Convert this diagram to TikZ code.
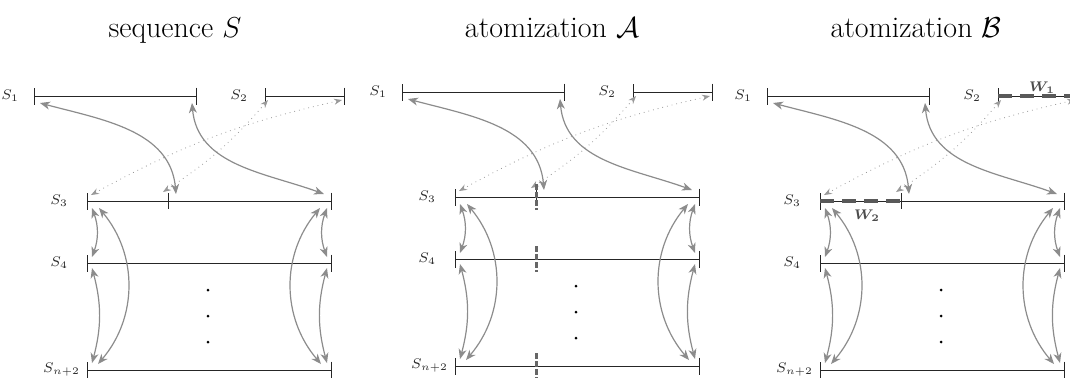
\documentclass[tikz,border=0pt]{standalone}
\usepackage{bm}
\usetikzlibrary{arrows.meta,calc}

\begin{document}
\begin{tikzpicture}[
  x=0.5pt, y=-0.5pt,
  title/.style={font=\fontsize{15}{18}\selectfont, anchor=base, inner sep=0pt},
  lab/.style={font=\scriptsize, text=black!85, left=#1},
  lab/.default=6pt,
  seg/.style={draw=black!85, line width=0.45pt, {Bar[width=8.5pt]}-{Bar[width=8.5pt]}},
  midtick/.style={draw=black!85, line width=0.45pt},
  link/.style={draw=black!45, line width=0.6pt,
    {Stealth[length=5pt,width=4pt,inset=1.5pt]}-{Stealth[length=5pt,width=4pt,inset=1.5pt]}},
  hint/.style={draw=black!40, line width=0.4pt, dotted,
    {Stealth[length=4pt,width=3pt]}-{Stealth[length=4pt,width=3pt]}},
  cut/.style={draw=black!60, line width=1.5pt, dash pattern=on 3pt off 1pt},
  wseg/.style={draw=black!65, line width=2pt, dash pattern=on 7pt off 4pt},
  wlab/.style={font=\scriptsize, text=black!70, inner sep=1pt}
]
\useasboundingbox (0,0) rectangle (1070,377);

% titles
\node[title] (a-title) at (175,37) {sequence $S$};
\node[title] (b-title) at (552,37) {atomization $\mathcal{A}$};
\node[title] (c-title) at (916,37) {atomization $\mathcal{B}$};

\foreach \p/\dx/\dy in {a/0/0, b/368/-4, c/733/0} {
  \begin{scope}[shift={(\dx,\dy)}]
    % segment ends
    \foreach \n/\x/\y in {1l/34/96, 1r/197/96, 2l/265/96, 2r/345/96,
                          3l/87/201, 3m/168/201, 3r/332/201,
                          4l/87/263, 4m/168/263, 4r/332/263,
                          5l/87/370, 5m/168/370, 5r/332/370}
      \coordinate (\p-\n) at (\x,\y);
    % arrow ends
    \foreach \n/\x/\y in {t1l/40/103, t1r/192/103, t2l/268/100, t2r/342/100,
                          t3a/91/195, t3b/92/208, t3c/99/208, t3m/163/192,
                          t3n/176/194, t3x/324/194, t3y/327/208, t3z/320/208,
                          t4a/92/257, t4b/92/268, t4x/327/257, t4y/327/268,
                          t5a/92/363, t5b/98/364, t5x/327/363, t5y/321/364}
      \coordinate (\p-\n) at (\x,\y);

    \draw[seg] (\p-1l) -- (\p-1r);
    \draw[seg] (\p-2l) -- (\p-2r);
    \draw[seg] (\p-3l) -- (\p-3r);
    \draw[seg] (\p-4l) -- (\p-4r);
    \draw[seg] (\p-5l) -- (\p-5r);
    \draw[midtick] ($(\p-3m)+(0,-8)$) -- ($(\p-3m)+(0,8)$);

    \node[lab=4pt] (\p-1n) at (\p-1l) {$S_1$};
    \node[lab=5pt] (\p-2n) at (\p-2l) {$S_2$};
    \node[lab] (\p-3n) at (\p-3l) {$S_3$};
    \node[lab] (\p-4n) at (\p-4l) {$S_4$};
    \node[lab=0pt] (\p-5n) at (\p-5l) {$S_{n+2}$};

    \foreach \k in {290,316,342}
      \fill (208,\k) circle (0.75pt);

    \draw[link] (\p-t1l) to[out=-15,in=95] (\p-t3n);
    \draw[link] (\p-t1r) to[out=-85,in=160] (\p-t3x);
    \draw[hint] (\p-t2l) to[bend left=8] (\p-t3m);
    \draw[hint] (\p-t2r) to[bend right=8] (\p-t3a);
    \draw[link] (\p-t3b) to[bend left=20] (\p-t4a);
    \draw[link] (\p-t3c) to[bend left=40] (\p-t5b);
    \draw[link] (\p-t4b) to[bend left=15] (\p-t5a);
    \draw[link] (\p-t3y) to[bend right=20] (\p-t4x);
    \draw[link] (\p-t3z) to[bend right=40] (\p-t5y);
    \draw[link] (\p-t4y) to[bend right=15] (\p-t5x);
  \end{scope}
}

% atomization A: cut marks
\foreach \n in {3,4,5}
  \draw[cut] ($(b-\n m)+(0,-13)$) -- ($(b-\n m)+(0,13)$);

% atomization B: windows
\draw[wseg] (c-2l) -- (c-2r);
\draw[wseg] (c-3l) -- (c-3m);
\node[wlab, above=0pt] (c-w1) at ($(c-2l)!0.55!(c-2r)$) {$\bm{W_1}$};
\node[wlab, below=3pt] (c-w2) at ($(c-3l)!0.58!(c-3m)$) {$\bm{W_2}$};
\end{tikzpicture}
\end{document}
